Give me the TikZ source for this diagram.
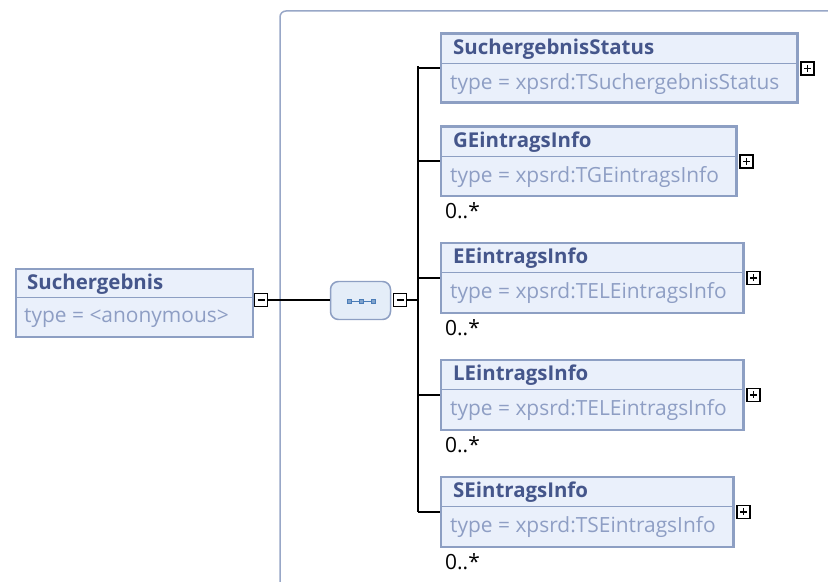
\documentclass[tikz,border=0pt]{standalone}
\usepackage{fontspec}
\setmainfont{Open Sans}
\usetikzlibrary{calc}
\definecolor{bordc}{HTML}{8D9FC3}
\definecolor{fillc}{HTML}{EAF0FB}
\definecolor{titlec}{HTML}{45568B}
\definecolor{typec}{HTML}{8E9EC4}
\definecolor{framec}{HTML}{98A7C7}
\definecolor{seqfill}{HTML}{E4EDF8}
\definecolor{seqdot}{HTML}{4B7DB8}
\begin{document}
\begin{tikzpicture}[x=1bp,y=-1bp,
  elbox/.style={draw=bordc, line width=3pt, fill=fillc, inner sep=0pt, anchor=north west},
  divider/.style={draw=bordc, line width=1.5pt},
  titletxt/.style={anchor=west, text=titlec, font=\bfseries\fontsize{20.5}{24}\selectfont, inner sep=0pt},
  typetxt/.style={anchor=west, text=typec, font=\fontsize{21}{24}\selectfont, inner sep=0pt},
  multtxt/.style={anchor=west, text=black, font=\fontsize{21}{24}\selectfont, inner sep=0pt},
  ctrlbox/.style={draw=black, fill=white, line width=1.6pt, minimum size=13bp, inner sep=0pt},
  conn/.style={draw=black, line width=2bp},
  frame/.style={draw=framec, line width=1.5pt, rounded corners=6pt},
  seqbox/.style={draw=bordc, fill=seqfill, line width=1.5pt, rounded corners=8pt, minimum width=60bp, minimum height=38bp, inner sep=0pt},
  seqdotsty/.style={draw=seqdot, fill=seqdot!70, minimum size=4pt, inner sep=0pt}
]
\useasboundingbox (0,0) rectangle (828,582);
\fill[white] (0,0) rectangle (828,582);

% frame
\draw[frame] (280,583) -- (280,11) -- (830,11);

% root element
\node[elbox, minimum width=237bp, minimum height=68bp] (root) at (14.5,267.5) {};
\draw[divider] ($(root.north west)+(1.5,30)$) -- ($(root.north east)+(-1.5,30)$);
\node[titletxt] (roott) at ($(root.north west)+(12.5,16.5)$) {Suchergebnis};
\node[typetxt] (rooty) at ($(root.north west)+(9.5,50.5)$) {type = <anonymous>};
\node[ctrlbox] (rootm) at (261,300) {};
\draw[line width=1.6pt] ($(rootm.center)+(-3.5,0)$) -- ($(rootm.center)+(3.5,0)$);

% sequence
\node[seqbox] (seq) at (360.5,300.5) {};
\node[seqdotsty] (d1) at (349,301.5) {};
\node[seqdotsty] (d2) at (361,301.5) {};
\node[seqdotsty] (d3) at (373,301.5) {};
\draw[seqdot, line width=1pt] (d1) -- (d2) -- (d3);
\node[ctrlbox] (seqm) at (400,300) {};
\draw[line width=1.6pt] ($(seqm.center)+(-3.5,0)$) -- ($(seqm.center)+(3.5,0)$);

\draw[conn] (rootm.east) -- (rootm.east -| seq.west);

% bus
\coordinate (bus) at (418,300);
\coordinate (bt) at (418,67);
\coordinate (bb) at (418,510.5);
\draw[conn] (seqm.east) -- (bus);
\draw[conn, line cap=rect] (bt) -- (bb);

% children
\newcommand\childbox[8]{% name, x, y, w, h, title, type, mult
  \node[elbox, minimum width=#4bp, minimum height=#5bp] (#1) at (#2,#3) {};
  \draw[divider] ($(#1.north west)+(1.5,31)$) -- ($(#1.north east)+(-1.5,31)$);
  \node[titletxt] (#1t) at ($(#1.north west)+(13.5,17)$) {#6};
  \node[typetxt] (#1y) at ($(#1.north west)+(10.5,51.5)$) {#7};
  \node[ctrlbox] (#1p) at ($(#1.east)+(9,0)$) {};
  \draw[line width=1.6pt] ($(#1p.center)+(-3.5,0)$) -- ($(#1p.center)+(3.5,0)$);
  \draw[line width=1.6pt] ($(#1p.center)+(0,-3.5)$) -- ($(#1p.center)+(0,3.5)$);
  \draw[conn] (#1.west -| bus) -- (#1.west);
  \node[multtxt] (#1m) at ($(#1.south west)+(5.5,13.5)$) {#8};
}
\childbox{c1}{439.5}{32.5}{356}{69}{SuchergebnisStatus}{type = xpsrd:TSuchergebnisStatus}{}
\childbox{c2}{439.5}{125.5}{295}{69}{GEintragsInfo}{type = xpsrd:TGEintragsInfo}{0..*}
\childbox{c3}{439.5}{241.5}{302}{70}{EEintragsInfo}{type = xpsrd:TELEintragsInfo}{0..*}
\childbox{c4}{439.5}{358.5}{302}{70}{LEintragsInfo}{type = xpsrd:TELEintragsInfo}{0..*}
\childbox{c5}{439.5}{475.5}{292}{70}{SEintragsInfo}{type = xpsrd:TSEintragsInfo}{0..*}
\end{tikzpicture}
\end{document}
